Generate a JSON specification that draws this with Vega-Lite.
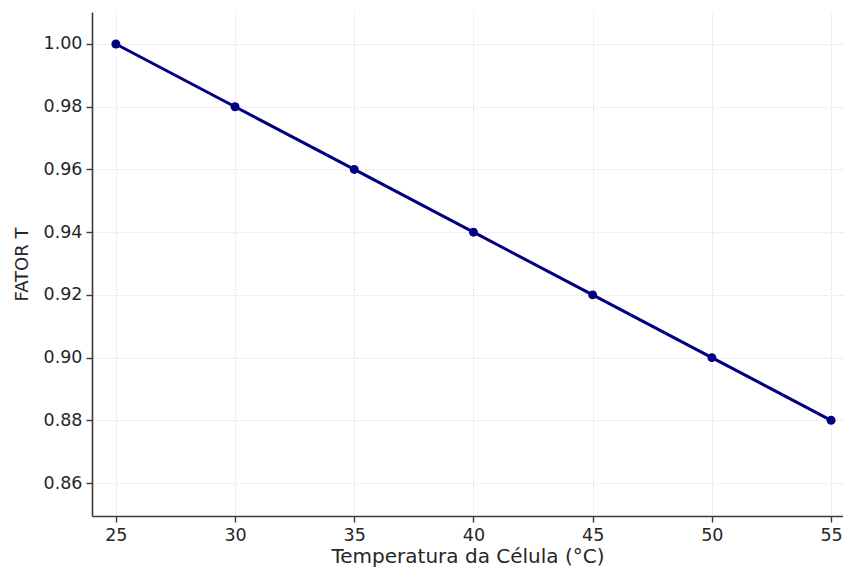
{
  "$schema": "https://vega.github.io/schema/vega-lite/v6.json",
  "width": 751,
  "height": 504,
  "autosize": {"type": "none"},
  "padding": {"left": 92, "top": 12, "right": 0, "bottom": 53},
  "background": "white",
  "config": {
    "view": {"stroke": null},
    "font": "DejaVu Sans",
    "axis": {
      "labelFont": "DejaVu Sans",
      "titleFont": "DejaVu Sans",
      "labelFontSize": 17.5,
      "titleFontSize": 18,
      "titleFontWeight": "normal",
      "labelColor": "#262626",
      "titleColor": "#262626",
      "domainColor": "#3a3a3a",
      "domainWidth": 1.6,
      "tickColor": "#3a3a3a",
      "tickWidth": 1.4,
      "tickSize": 6,
      "labelPadding": 4,
      "gridColor": "#d9d9d9",
      "gridDash": [2, 2],
      "gridWidth": 0.8
    }
  },
  "data": {
    "values": [
      {"temp": 25, "fator": 1.00},
      {"temp": 30, "fator": 0.98},
      {"temp": 35, "fator": 0.96},
      {"temp": 40, "fator": 0.94},
      {"temp": 45, "fator": 0.92},
      {"temp": 50, "fator": 0.90},
      {"temp": 55, "fator": 0.88}
    ]
  },
  "encoding": {
    "x": {
      "field": "temp",
      "type": "quantitative",
      "scale": {"domain": [24, 55.5], "nice": false, "zero": false},
      "axis": {"values": [25, 30, 35, 40, 45, 50, 55], "title": "Temperatura da Célula (°C)", "titlePadding": 3, "titleFontSize": 20}
    },
    "y": {
      "field": "fator",
      "type": "quantitative",
      "scale": {"domain": [0.8495, 1.0102], "nice": false, "zero": false},
      "axis": {"values": [0.86, 0.88, 0.90, 0.92, 0.94, 0.96, 0.98, 1.00], "format": ".2f", "title": "FATOR T", "titlePadding": 12}
    }
  },
  "layer": [
    {"mark": {"type": "line", "color": "#000080", "strokeWidth": 3}},
    {"mark": {"type": "point", "filled": true, "color": "#000080", "opacity": 1, "size": 80}}
  ]
}
